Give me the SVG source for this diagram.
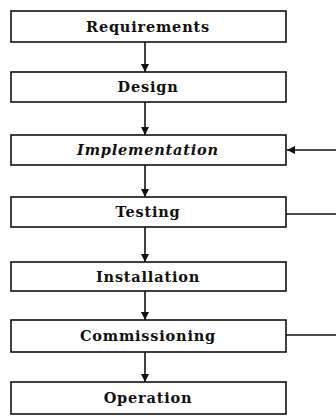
<svg xmlns="http://www.w3.org/2000/svg" width="336" height="416" viewBox="0 0 336 416">
<style>
.box{fill:#fff;stroke:#111;stroke-width:1.6}
.t{font-family:"DejaVu Serif","Liberation Serif",serif;font-size:14.5px;font-weight:bold;fill:#111;text-anchor:middle;letter-spacing:0.8px}
.c{stroke:#111;stroke-width:1.6;fill:none}
</style>
<defs>
<marker id="ah" viewBox="0 0 10 10" refX="10" refY="5" markerWidth="5" markerHeight="5" orient="auto"><path d="M0,0 L10,5 L0,10 z" fill="#111"/></marker>
</defs>
<rect width="336" height="416" fill="#fff"/>
<g id="connectors">
<line class="c" x1="145" y1="42" x2="145" y2="72" marker-end="url(#ah)"/>
<line class="c" x1="145" y1="102" x2="145" y2="135" marker-end="url(#ah)"/>
<line class="c" x1="145" y1="165" x2="145" y2="197" marker-end="url(#ah)"/>
<line class="c" x1="145" y1="227" x2="145" y2="262" marker-end="url(#ah)"/>
<line class="c" x1="145" y1="291" x2="145" y2="320" marker-end="url(#ah)"/>
<line class="c" x1="145" y1="352" x2="145" y2="382" marker-end="url(#ah)"/>
<line class="c" x1="336" y1="150" x2="287" y2="150" stroke-width="2.4" marker-end="url(#ah)"/>
<line class="c" x1="286" y1="214" x2="336" y2="214"/>
<line class="c" x1="286" y1="335" x2="336" y2="335"/>
</g>
<g id="requirements"><rect class="box" x="11" y="11" width="275" height="31"/><text class="t" x="148" y="32">Requirements</text></g>
<g id="design"><rect class="box" x="11" y="72" width="275" height="30"/><text class="t" x="148" y="92">Design</text></g>
<g id="implementation"><rect class="box" x="11" y="135" width="275" height="30"/><text class="t" x="148" y="155" font-style="italic">Implementation</text></g>
<g id="testing"><rect class="box" x="11" y="197" width="275" height="30"/><text class="t" x="148" y="217">Testing</text></g>
<g id="installation"><rect class="box" x="11" y="262" width="275" height="29"/><text class="t" x="148" y="282">Installation</text></g>
<g id="commissioning"><rect class="box" x="11" y="320" width="275" height="32"/><text class="t" x="148" y="341">Commissioning</text></g>
<g id="operation"><rect class="box" x="11" y="382" width="275" height="32"/><text class="t" x="148" y="403">Operation</text></g>
</svg>
